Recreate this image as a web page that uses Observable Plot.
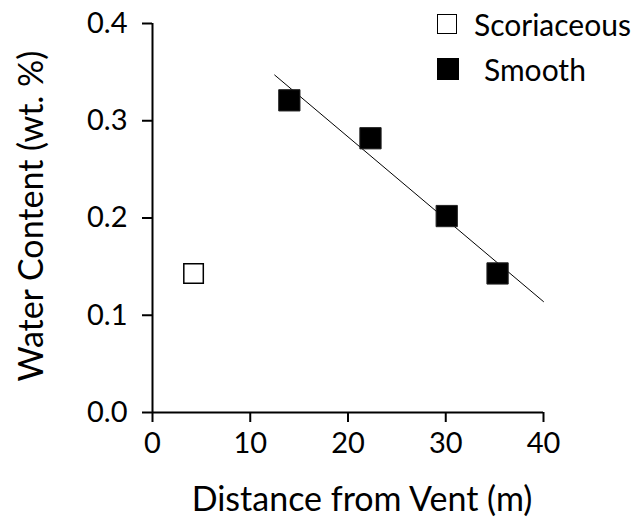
<!DOCTYPE html>
<html>
<head>
<meta charset="utf-8">
<script src="https://cdn.jsdelivr.net/npm/d3@7"></script>
<script src="https://cdn.jsdelivr.net/npm/@observablehq/plot@0.6"></script>
<style>
  html, body { margin: 0; padding: 0; background: #fff; }
  #wrap { position: relative; width: 642px; height: 517px; font-family: Lato, sans-serif; }
  .leg { position: absolute; display: flex; align-items: center; font-size: 30px; color: #000; }
  .sw { display: inline-block; box-sizing: border-box; }
</style>
</head>
<body>
<div id="wrap"></div>
<script>
// Data
const scoriaceousX = [4.2];
const scoriaceousY = [0.143];
const smoothX = [14.0, 22.3, 30.1, 35.3];
const smoothY = [0.321, 0.282, 0.202, 0.143];
// Fitted trend line endpoints (smooth samples)
const fitX = [12.5, 40];
const fitY = [0.347, 0.114];
const xTicks = [0, 10, 20, 30, 40];
const yTicks = [0.0, 0.1, 0.2, 0.3, 0.4];
const xTitle = "Distance from Vent (m)";
const yTitle = "Water Content (wt. %)";
const legendLabels = ["Scoriaceous", "Smooth"];

const scor = scoriaceousX.map((x, i) => ({x, y: scoriaceousY[i]}));
const smooth = smoothX.map((x, i) => ({x, y: smoothY[i]}));
const fit = fitX.map((x, i) => ({x, y: fitY[i]}));

const chart = Plot.plot({
  width: 642,
  height: 517,
  marginLeft: 152,
  marginRight: 99,
  marginTop: 23,
  marginBottom: 105,
  style: {fontFamily: "Lato, sans-serif", fontSize: "29px", color: "#000", background: "#fff", overflow: "visible"},
  x: {domain: [0, 40]},
  y: {domain: [0, 0.4]},
  marks: [
    Plot.axisX({ticks: xTicks, tickSize: 10, tickPadding: 10, strokeWidth: 2, label: null, fontSize: 29, tickFormat: d3.format("d")}),
    Plot.axisY({ticks: yTicks, tickSize: 10, tickPadding: 15, strokeWidth: 2, label: null, fontSize: 29, tickFormat: d3.format(".1f")}),
    Plot.ruleX([0], {y1: 0, y2: 0.4, strokeWidth: 2, stroke: "#000"}),
    Plot.ruleY([0], {x1: 0, x2: 40, strokeWidth: 2, stroke: "#000"}),
    Plot.line(fit, {x: "x", y: "y", stroke: "#000", strokeWidth: 1}),
    Plot.dot(scor, {x: "x", y: "y", symbol: "square", r: 11, fill: "#fff", stroke: "#000", strokeWidth: 1.5}),
    Plot.dot(smooth, {x: "x", y: "y", symbol: "square", r: 12, fill: "#000", stroke: "#222", strokeWidth: 1}),
    Plot.text([xTitle], {frameAnchor: "bottom", dx: 14, dy: 98, fontSize: 34, lineAnchor: "bottom"}),
    Plot.text([yTitle], {frameAnchor: "left", textAnchor: "middle", dx: -120, dy: -2, rotate: -90, fontSize: 34})
  ]
});
const wrap = document.getElementById("wrap");
wrap.appendChild(chart);

// Legend (HTML overlay in the top right)
const legend = [
  {label: legendLabels[0], top: 6, size: 20, fill: "#fff", gap: 17},
  {label: legendLabels[1], top: 51, size: 22, fill: "#000", gap: 25}
];
legend.forEach(l => {
  const d = document.createElement("div");
  d.className = "leg";
  d.style.left = "437px";
  d.style.top = l.top + "px";
  const sw = document.createElement("span");
  sw.className = "sw";
  sw.style.width = l.size + "px";
  sw.style.height = l.size + "px";
  sw.style.background = l.fill;
  sw.style.border = "1.5px solid #000";
  sw.style.marginRight = l.gap + "px";
  d.appendChild(sw);
  d.appendChild(document.createTextNode(l.label));
  wrap.appendChild(d);
});
</script>
</body>
</html>
